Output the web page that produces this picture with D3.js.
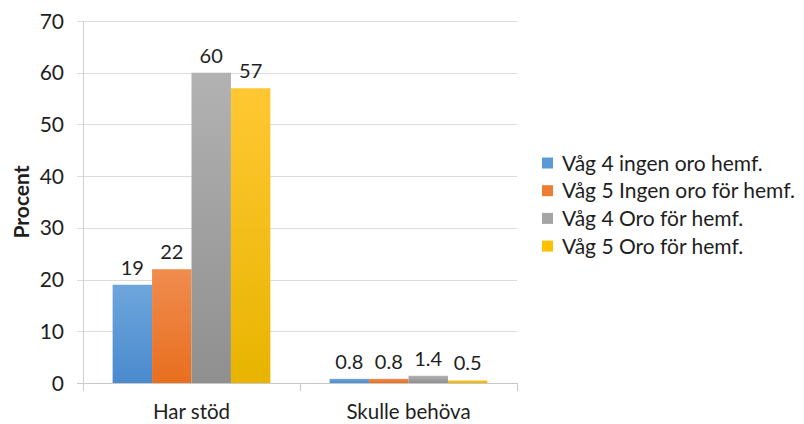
<!DOCTYPE html>
<html>
<head>
<meta charset="utf-8">
<script src="https://cdnjs.cloudflare.com/ajax/libs/d3/7.8.5/d3.min.js"></script>
<style>
  body { margin: 0; background: #fff; }
  svg text { font-family: Lato, "Open Sans", sans-serif; fill: #1e1e1e; }
</style>
</head>
<body>
<div id="chart"></div>
<script>
// Chart data
const categories = ['Har stöd', 'Skulle behöva'];
const seriesNames = ['Våg 4 ingen oro hemf.', 'Våg 5 Ingen oro för hemf.', 'Våg 4 Oro för hemf.', 'Våg 5 Oro för hemf.'];
const seriesValues = [
    [19, 0.8],
    [22, 0.8],
    [60, 1.4],
    [57, 0.5]
];
const valueLabels = [
    ['19', '0.8'],
    ['22', '0.8'],
    ['60', '1.4'],
    ['57', '0.5']
];
const yTicks = [0, 10, 20, 30, 40, 50, 60, 70];

// Excel-ish colours: [top, bottom] of the bar gradient, plus legend swatch
const barColours = [
    ['#6ea6dc', '#4a8ace'],
    ['#f08c4e', '#e86f1f'],
    ['#b2b2b2', '#8f8f8f'],
    ['#ffc833', '#e8b400']
];
const swatchColours = ['#5b9bd5', '#ed7d31', '#a5a5a5', '#ffc000'];

const width = 804, height = 424;
const margin = { left: 83, right: 287, top: 21, bottom: 41 };

const svg = d3.select('#chart')
    .append('svg')
    .attr('width', width)
    .attr('height', height);

const defs = svg.append('defs');
barColours.forEach((c, i) => {
    const g = defs.append('linearGradient')
        .attr('id', 'grad' + i)
        .attr('x1', 0).attr('y1', 0).attr('x2', 0).attr('y2', 1);
    g.append('stop').attr('offset', '0%').attr('stop-color', c[0]);
    g.append('stop').attr('offset', '100%').attr('stop-color', c[1]);
});

const x0 = d3.scaleBand()
    .domain(categories)
    .range([margin.left, width - margin.right])
    .paddingInner(0.273)
    .paddingOuter(0.1365);

const x1 = d3.scaleBand()
    .domain(d3.range(seriesNames.length))
    .range([0, x0.bandwidth()])
    .padding(0);

const y = d3.scaleLinear()
    .domain([0, 70])
    .range([height - margin.bottom, margin.top]);

// Gridlines
svg.append('g')
    .selectAll('line')
    .data(yTicks)
    .enter()
    .append('line')
    .attr('x1', margin.left - 6)
    .attr('x2', width - margin.right)
    .attr('y1', d => Math.round(y(d)) + 0.5)
    .attr('y2', d => Math.round(y(d)) + 0.5)
    .attr('stroke', d => d === 0 ? '#c8c8c8' : '#dcdcdc')
    .attr('stroke-width', 1);

// Vertical axis line
svg.append('line')
    .attr('x1', margin.left + 0.5).attr('x2', margin.left + 0.5)
    .attr('y1', margin.top).attr('y2', y(0) + 8)
    .attr('stroke', '#d0d0d0');

// Category separators (tick marks below the baseline)
const sepX = [margin.left + x0.step(), margin.left + x0.step() * 2];
svg.append('g')
    .selectAll('line')
    .data(sepX)
    .enter()
    .append('line')
    .attr('x1', d => Math.round(d) + 0.5)
    .attr('x2', d => Math.round(d) + 0.5)
    .attr('y1', y(0))
    .attr('y2', y(0) + 8)
    .attr('stroke', '#c8c8c8');

// Y tick labels
svg.append('g')
    .selectAll('text')
    .data(yTicks)
    .enter()
    .append('text')
    .attr('x', 64)
    .attr('y', d => y(d))
    .attr('dy', '0.36em')
    .attr('text-anchor', 'end')
    .style('font-size', '21px')
    .text(d => d);

// Y axis title
svg.append('text')
    .attr('transform', `translate(21,${(y(0) + y(70)) / 2}) rotate(-90)`)
    .attr('text-anchor', 'middle')
    .attr('dy', '0.36em')
    .style('font-size', '21px')
    .style('font-weight', 'bold')
    .text('Procent');

// Bars
const groups = svg.append('g')
    .selectAll('g')
    .data(categories)
    .enter()
    .append('g')
    .attr('transform', d => `translate(${x0(d)},0)`);

const cells = (d, ci) => seriesValues.map((vals, si) => ({ si, v: vals[ci], label: valueLabels[si][ci] }));

groups.selectAll('rect')
    .data(cells)
    .enter()
    .append('rect')
    .attr('x', d => x1(d.si))
    .attr('width', x1.bandwidth())
    .attr('y', d => y(d.v))
    .attr('height', d => y(0) - y(d.v))
    .attr('fill', d => `url(#grad${d.si})`);

groups.selectAll('text')
    .data(cells)
    .enter()
    .append('text')
    .attr('x', d => x1(d.si) + x1.bandwidth() / 2)
    .attr('y', d => y(d.v) - 10)
    .attr('text-anchor', 'middle')
    .style('font-size', '20px')
    .text(d => d.label);

// Category labels
svg.append('g')
    .selectAll('text')
    .data(categories)
    .enter()
    .append('text')
    .attr('x', d => x0(d) + x0.bandwidth() / 2)
    .attr('y', 419)
    .attr('text-anchor', 'middle')
    .style('font-size', '20.5px')
    .text(d => d);

// Legend
const legend = svg.append('g')
    .selectAll('g')
    .data(seriesNames)
    .enter()
    .append('g')
    .attr('transform', (d, i) => `translate(542,${163 + i * 27.7})`);

legend.append('rect')
    .attr('x', 0)
    .attr('y', -5.5)
    .attr('width', 11)
    .attr('height', 11)
    .attr('fill', (d, i) => swatchColours[i]);

legend.append('text')
    .attr('x', 20)
    .attr('dy', '0.36em')
    .style('font-size', '21px')
    .text(d => d);
</script>
</body>
</html>
